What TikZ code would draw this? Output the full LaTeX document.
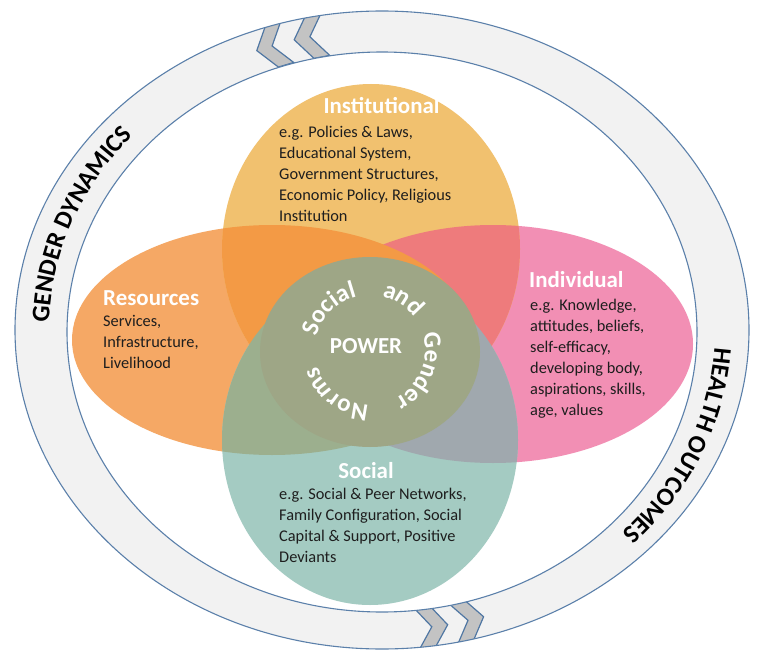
\documentclass[tikz,border=0pt]{standalone}
\usepackage{fontspec}
\setmainfont{Carlito}
\usetikzlibrary{decorations.text,calc}
\definecolor{ringfill}{HTML}{F2F2F2}
\definecolor{ringline}{HTML}{5B80AA}
\definecolor{chevfill}{HTML}{C3C3C3}
\definecolor{chevline}{HTML}{5077A3}
\definecolor{instc}{HTML}{F1C16F}
\definecolor{resc}{HTML}{F5A865}
\definecolor{indc}{HTML}{F28FB4}
\definecolor{socc}{HTML}{A4CBC2}
\definecolor{instres}{HTML}{F39A45}
\definecolor{instind}{HTML}{EE7B7C}
\definecolor{socres}{HTML}{9CAF8E}
\definecolor{socind}{HTML}{A0A8AE}
\definecolor{core}{HTML}{9EA686}
\definecolor{bodytext}{HTML}{1E1E1E}
\newcommand\ringfont{\bfseries\fontsize{25.5}{25.5}\selectfont}
\newcommand\circfont{\bfseries\fontsize{25}{25}\selectfont}
\newcommand\circword[3]{%
  \path[decorate, decoration={text along path, text={|\circfont|#3}, text align=center, text color=white}]
    ($(N)+(#1:55)$) arc[start angle=#1, end angle=#2, radius=55];
}
\begin{document}
\begin{tikzpicture}[x=1bp,y=1bp,
  chevron/.style={fill=chevfill, draw=chevline, line width=1.2bp, line join=miter},
  ringedge/.style={draw=ringline, line width=1.1bp},
  title/.style={font=\bfseries\fontsize{23}{23}\selectfont, text=white, inner sep=0pt},
  body/.style={font=\fontsize{16.4}{21}\selectfont, text=bodytext, align=left, inner sep=0pt, anchor=north west}]
\useasboundingbox (0,0) rectangle (759,-650);
\coordinate (C) at (382,-330);
\coordinate (Ci) at (382,-332);
\coordinate (N) at (370,-350);
% ring
\fill[ringfill] (C) ellipse [x radius=367, y radius=319];
\begin{scope}
  \clip (C) ellipse [x radius=367, y radius=319];
  \foreach \x/\y/\a in {272.1/-46.0/196.7, 309.9/-36.8/190.8, 431.8/-626.8/7.4, 468/-620.3/12.9}
    \draw[chevron, shift={(\x,\y)}, rotate=\a] (-16,22) -- (0,22) -- (16,0) -- (0,-22) -- (-16,-22) -- (0,0) -- cycle;
\end{scope}
\fill[white] (Ci) ellipse [x radius=315, y radius=280];
\draw[ringedge] (C) ellipse [x radius=367, y radius=319];
\draw[ringedge] (Ci) ellipse [x radius=315, y radius=280];
% ring texts
\path[decorate, decoration={text along path, text={|\ringfont|GENDER DYNAMICS}, text align=center, text color=black}]
  ($(C)+(220:333 and 292)$) arc[start angle=220, end angle=100, x radius=333, y radius=292];
\path[decorate, decoration={text along path, text={|\ringfont|HEALTH OUTCOMES}, text align=center, text color=black}]
  ($(C)+(38:333 and 292)$) arc[start angle=38, end angle=-82, x radius=333, y radius=292];
% domains
\fill[indc] (493,-344) ellipse [x radius=200, y radius=119];
\fill[resc] (272,-340) ellipse [x radius=200, y radius=115];
\fill[instc] (371,-249) ellipse [x radius=149, y radius=165];
\fill[socc] (370,-440) ellipse [x radius=148, y radius=165];
\begin{scope}
  \clip (371,-249) ellipse [x radius=149, y radius=165];
  \fill[instind] (493,-344) ellipse [x radius=200, y radius=119];
  \fill[instres] (272,-340) ellipse [x radius=200, y radius=115];
\end{scope}
\begin{scope}
  \clip (370,-440) ellipse [x radius=148, y radius=165];
  \fill[socind] (493,-344) ellipse [x radius=200, y radius=119];
  \fill[socres] (272,-340) ellipse [x radius=200, y radius=115];
\end{scope}
\fill[core] (370,-352) ellipse [x radius=110, y radius=95];
% titles
\node[title, anchor=base] (tinst) at (381.5,-114) {Institutional};
\node[title, anchor=base west] (tres) at (103,-305) {Resources};
\node[title, anchor=base west] (tind) at (529,-287) {Individual};
\node[title, anchor=base] (tsoc) at (366,-478) {Social};
\node[title, anchor=base] (power) at (366,-353) {POWER};
% bodies
\node[body] (binst) at (279,-126) {e.g. Policies \& Laws,\\Educational System,\\Government Structures,\\Economic Policy, Religious\\Institution};
\node[body] (bres) at (103,-315) {Services,\\Infrastructure,\\Livelihood};
\node[body] (bind) at (530,-299) {e.g. Knowledge,\\attitudes, beliefs,\\self-efficacy,\\developing body,\\aspirations, skills,\\age, values};
\node[body] (bsoc) at (279,-488) {e.g. Social \& Peer Networks,\\Family Configuration, Social\\Capital \& Support, Positive\\Deviants};
% circular words
\circword{190}{80}{Social}
\circword{110}{4}{and}
\circword{30}{-76}{Gender}
\circword{286}{180}{Norms}
\end{tikzpicture}
\end{document}
